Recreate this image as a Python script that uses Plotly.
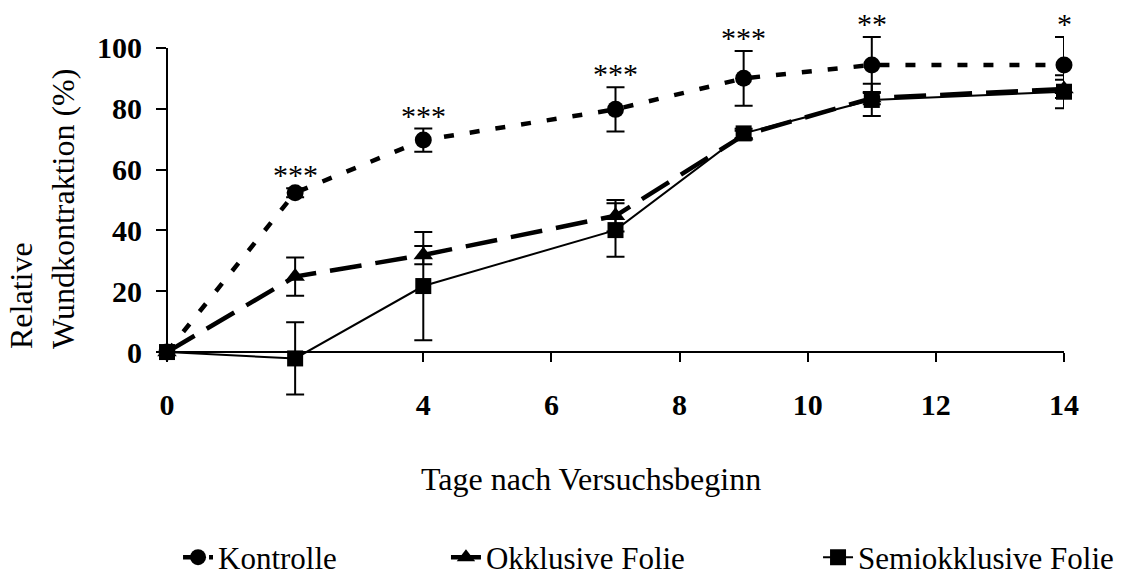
import plotly.graph_objects as go

# ---- data ----
days = [0, 2, 4, 7, 9, 11, 14]

kontrolle = [0, 52.4, 69.7, 79.8, 90.0, 94.4, 94.4]
kontrolle_err = [0, 1.5, 3.8, 7.3, 9.0, 9.2, 9.2]

okklusiv = [0, 24.8, 31.9, 44.8, 71.3, 83.5, 86.5]
okklusiv_err = [0, 6.3, 3.0, 5.2, 1.5, 2.0, 3.0]

semiokklusiv = [0, -2.1, 21.7, 40.1, 71.9, 82.9, 85.6]
semiokklusiv_err = [0, 11.9, 17.8, 8.8, 1.5, 5.3, 5.4]

significance = ["", "***", "***", "***", "***", "**", "*"]

x_tick_vals = [0, 2, 4, 6, 8, 10, 12, 14]
x_tick_text = ["0", "", "4", "6", "8", "10", "12", "14"]
y_tick_vals = [0, 20, 40, 60, 80, 100]

series_names = ["Kontrolle", "Okklusive Folie", "Semiokklusive Folie"]
x_title = "Tage nach Versuchsbeginn"
y_title = "Relative<br>Wundkontraktion (%)"

# ---- layout constants ----
FONT = "Liberation Serif"
Y_RANGE = [-16.1, 105.9]
X_RANGE = [0, 14]
f0 = (0 - Y_RANGE[0]) / (Y_RANGE[1] - Y_RANGE[0])
f100 = (100 - Y_RANGE[0]) / (Y_RANGE[1] - Y_RANGE[0])

err_style = dict(type="data", thickness=2, width=9, color="black", visible=True)

fig = go.Figure()

fig.add_trace(go.Scatter(
    x=days, y=okklusiv, name=series_names[1], mode="lines+markers",
    line=dict(color="black", width=4.5, dash="32px,14px"),
    marker=dict(symbol="triangle-up", size=17, color="black"),
    error_y=dict(array=okklusiv_err, **err_style),
    cliponaxis=False, legend="legend2",
))
fig.add_trace(go.Scatter(
    x=days, y=semiokklusiv, name=series_names[2], mode="lines+markers",
    line=dict(color="black", width=2),
    marker=dict(symbol="square", size=16, color="black"),
    error_y=dict(array=semiokklusiv_err, **err_style),
    cliponaxis=False, legend="legend3",
))
fig.add_trace(go.Scatter(
    x=days, y=kontrolle, name=series_names[0], mode="lines+markers",
    line=dict(color="black", width=4.5, dash="10px,16px"),
    marker=dict(symbol="circle", size=17, color="black"),
    error_y=dict(array=kontrolle_err, **err_style),
    cliponaxis=False, legend="legend",
))
# carrier trace for the visible y axis (0..100 only)
fig.add_trace(go.Scatter(x=[None], y=[None], xaxis="x", yaxis="y2",
                         showlegend=False, hoverinfo="skip"))

# significance stars above the control error bars
for d, m, e, s in zip(days, kontrolle, kontrolle_err, significance):
    if s:
        fig.add_annotation(x=d, y=m + e, xref="x", yref="y", text=s,
                           showarrow=False, yanchor="bottom", yshift=-5,
                           font=dict(family=FONT, size=30, color="black"))

# axis titles
fig.add_annotation(x=0, xref="paper", xshift=-125, y=0.5175, yref="paper",
                   text=y_title, textangle=-90, align="left", showarrow=False,
                   xanchor="center", yanchor="middle",
                   font=dict(family=FONT, size=32, color="black"))
fig.add_annotation(x=0.4727, xref="paper", y=-0.21, yref="paper",
                   text=x_title, showarrow=False, xanchor="center", yanchor="middle",
                   font=dict(family=FONT, size=32, color="black"))

legend_common = dict(orientation="h", yanchor="middle", y=-0.422, xanchor="left",
                     font=dict(family=FONT, size=31, color="black"),
                     bgcolor="rgba(0,0,0,0)")

fig.update_layout(
    width=1128, height=578,
    margin=dict(l=167, r=64, t=30, b=177, autoexpand=False),
    paper_bgcolor="white", plot_bgcolor="rgba(0,0,0,0)",
    font=dict(family=FONT, color="black"),
    xaxis=dict(range=X_RANGE, anchor="free", position=f0,
               showline=True, linecolor="black", linewidth=2,
               ticks="outside", ticklen=9, tickwidth=2, tickcolor="black",
               tickvals=x_tick_vals, ticktext=x_tick_text,
               tickfont=dict(family=FONT, size=30, color="black", weight="bold"),
               ticklabelstandoff=17, automargin=False,
               showgrid=False, zeroline=False),
    yaxis=dict(range=Y_RANGE, visible=False, showgrid=False, zeroline=False),
    yaxis2=dict(range=[0, 100], domain=[f0, f100], anchor="free", position=0,
                showline=True, linecolor="black", linewidth=2,
                ticks="outside", ticklen=10, tickwidth=2, tickcolor="black",
                tickvals=y_tick_vals,
                tickfont=dict(family=FONT, size=30, color="black", weight="bold"),
                ticklabelstandoff=8, automargin=False,
                showgrid=False, zeroline=False),
    legend=dict(x=0.0123, **legend_common),
    legend2=dict(x=0.311, **legend_common),
    legend3=dict(x=0.7258, **legend_common),
)

fig.write_html("out.html", config={"displayModeBar": False},
               post_script="document.body.style.margin='0';")
